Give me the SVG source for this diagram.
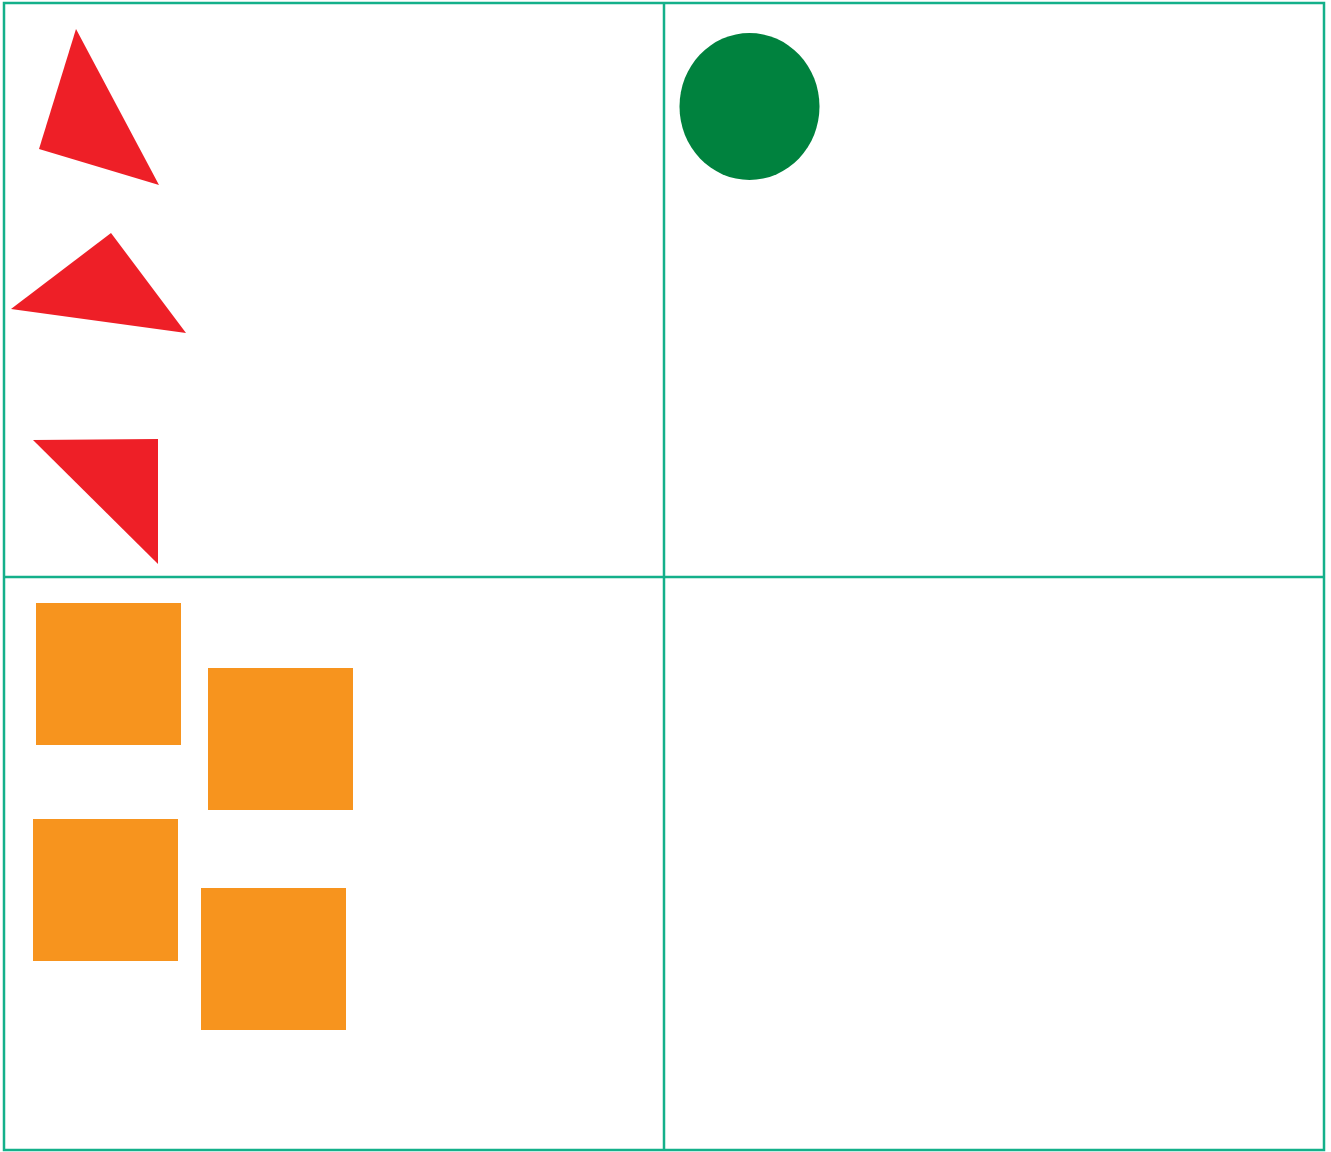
<svg xmlns="http://www.w3.org/2000/svg" width="1331" height="1152" viewBox="0 0 1331 1152">
<style>
.grid{fill:none;stroke:#14b08a;stroke-width:2.5}
.tri{fill:#ee1f27}
.sq{fill:#f7941e}
.circ{fill:#00823e}
</style>
<rect width="1331" height="1152" fill="#fff"/>
<g id="grid">
<rect class="grid" x="4" y="3" width="1320" height="1147"/>
<line class="grid" x1="664" y1="3" x2="664" y2="1150"/>
<line class="grid" x1="4" y1="577" x2="1324" y2="577"/>
</g>
<g id="triangles">
<polygon class="tri" points="76,29 39,149 159,185"/>
<polygon class="tri" points="111,233 11,309 186,333"/>
<polygon class="tri" points="33,440 158,439 158,564"/>
</g>
<g id="circle">
<ellipse class="circ" cx="749.5" cy="106.5" rx="70" ry="73.5"/>
</g>
<g id="squares">
<rect class="sq" x="36" y="603" width="145" height="142"/>
<rect class="sq" x="208" y="668" width="145" height="142"/>
<rect class="sq" x="33" y="819" width="145" height="142"/>
<rect class="sq" x="201" y="888" width="145" height="142"/>
</g>
</svg>
